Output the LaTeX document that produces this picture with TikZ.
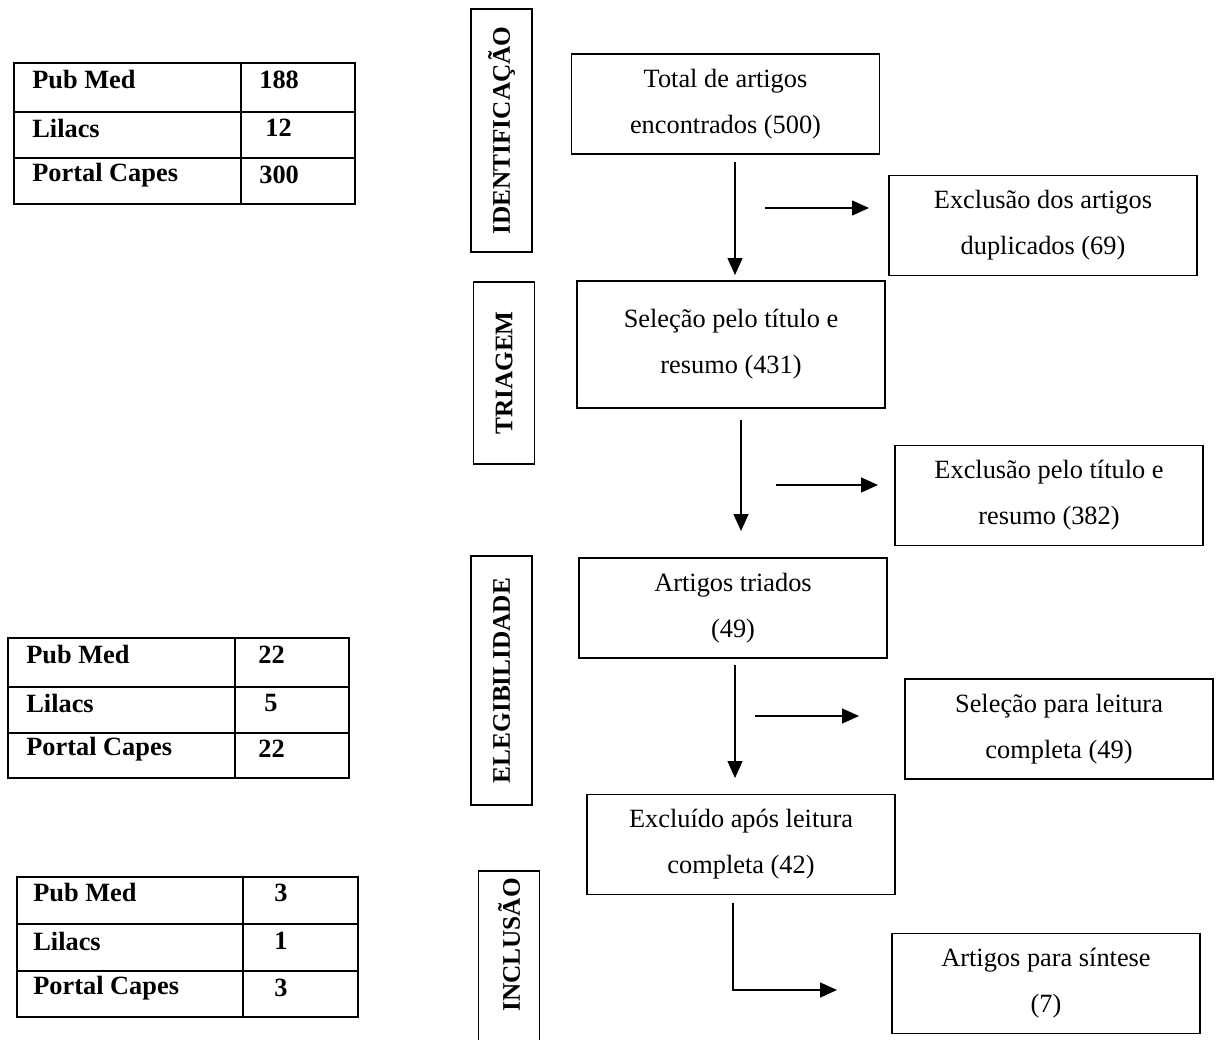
\documentclass[tikz,border=0pt]{standalone}
\usepackage{fontspec}
\setmainfont{Liberation Serif}
\usetikzlibrary{arrows.meta,positioning}

\tikzset{
  etapa/.style={draw, line width=0.8pt, minimum width=6.16cm, minimum height=2cm,
    align=center, font=\fontsize{15}{26.2}\selectfont},
  fase/.style={draw, line width=0.8pt, rotate=90, minimum height=1.22cm,
    font=\fontsize{14.4}{16}\selectfont\bfseries},
  tabela/.style={line width=0.8pt},
  celula/.style={anchor=west, inner sep=0pt, font=\fontsize{15}{17}\selectfont\bfseries},
  seta/.style={line width=0.8pt, -{Triangle[length=0.34cm, width=0.3cm]}}
}

\begin{document}
\begin{tikzpicture}[x=0.02cm, y=-0.02cm]
    \useasboundingbox (0,0) rectangle (1216,1040);

    % Tabela de artigos encontrados
    \draw[tabela] (14,63) rectangle (355,204);
    \draw[tabela] (14,112) -- (355,112) (14,158) -- (355,158) (241,63) -- (241,204);
    \node[celula] (pubmedA) at (32,80) {Pub Med};
    \node[celula] (lilacsA) at (32,128) {Lilacs};
    \node[celula] (capesA) at (32,175) {Portal Capes};
    \node[celula] (npubmedA) at (259,80) {188};
    \node[celula] (nlilacsA) at (265,128) {12};
    \node[celula] (ncapesA) at (259,175) {300};

    % Tabela de artigos triados
    \draw[tabela] (8,638) rectangle (349,778);
    \draw[tabela] (8,687) -- (349,687) (8,733) -- (349,733) (235,638) -- (235,778);
    \node[celula] (pubmedB) at (26,655) {Pub Med};
    \node[celula] (lilacsB) at (26,703) {Lilacs};
    \node[celula] (capesB) at (26,749) {Portal Capes};
    \node[celula] (npubmedB) at (258,655) {22};
    \node[celula] (nlilacsB) at (264,703) {5};
    \node[celula] (ncapesB) at (258,749) {22};

    % Tabela de artigos incluidos
    \draw[tabela] (17,877) rectangle (358,1017);
    \draw[tabela] (17,924) -- (358,924) (17,971) -- (358,971) (243,877) -- (243,1017);
    \node[celula] (pubmedC) at (33,893) {Pub Med};
    \node[celula] (lilacsC) at (33,941) {Lilacs};
    \node[celula] (capesC) at (33,988) {Portal Capes};
    \node[celula] (npubmedC) at (274,893) {3};
    \node[celula] (nlilacsC) at (274,941) {1};
    \node[celula] (ncapesC) at (274,988) {3};

    % Fases
    \node[fase, minimum width=4.86cm] (ident) at (501.5,130.5) {IDENTIFICAÇÃO};
    \node[fase, minimum width=3.64cm] (triagem) at (504,373) {TRIAGEM};
    \node[fase, minimum width=4.98cm] (eleg) at (501.5,680.5) {ELEGIBILIDADE};
    \node[fase, minimum width=3.58cm] (inclusao) at (509,960.5) {\hspace*{0.62cm}INCLUSÃO};

    % Etapas
    \node[etapa] (total) at (725.5,104) {Total de artigos\\encontrados (500)};
    \node[etapa] (duplic) at (1043,225.5) {Exclusão dos artigos\\duplicados (69)};
    \node[etapa, minimum height=2.54cm] (titulo) at (731,344.5) {Seleção pelo título e\\resumo (431)};
    \node[etapa] (excltit) at (1049,495.5) {Exclusão pelo título e\\resumo (382)};
    \node[etapa] (triados) at (733,608) {Artigos triados\\(49)};
    \node[etapa] (leitura) at (1059,729) {Seleção para leitura\\completa (49)};
    \node[etapa] (excluido) at (741,844.5) {Excluído após leitura\\completa (42)};
    \node[etapa] (sintese) at (1046,983.5) {Artigos para síntese\\(7)};

    % Setas
    \coordinate (s1a) at (735,162);  \coordinate (s1b) at (735,275);
    \coordinate (s2a) at (765,208);  \coordinate (s2b) at (869,208);
    \coordinate (s3a) at (741,420);  \coordinate (s3b) at (741,531);
    \coordinate (s4a) at (776,485);  \coordinate (s4b) at (878,485);
    \coordinate (s5a) at (735,665);  \coordinate (s5b) at (735,778);
    \coordinate (s6a) at (755,716);  \coordinate (s6b) at (859,716);
    \coordinate (s7a) at (733,903);  \coordinate (s7b) at (837,990);
    \draw[seta] (s1a) -- (s1b);
    \draw[seta] (s2a) -- (s2b);
    \draw[seta] (s3a) -- (s3b);
    \draw[seta] (s4a) -- (s4b);
    \draw[seta] (s5a) -- (s5b);
    \draw[seta] (s6a) -- (s6b);
    \draw[seta] (s7a) |- (s7b);
\end{tikzpicture}
\end{document}
